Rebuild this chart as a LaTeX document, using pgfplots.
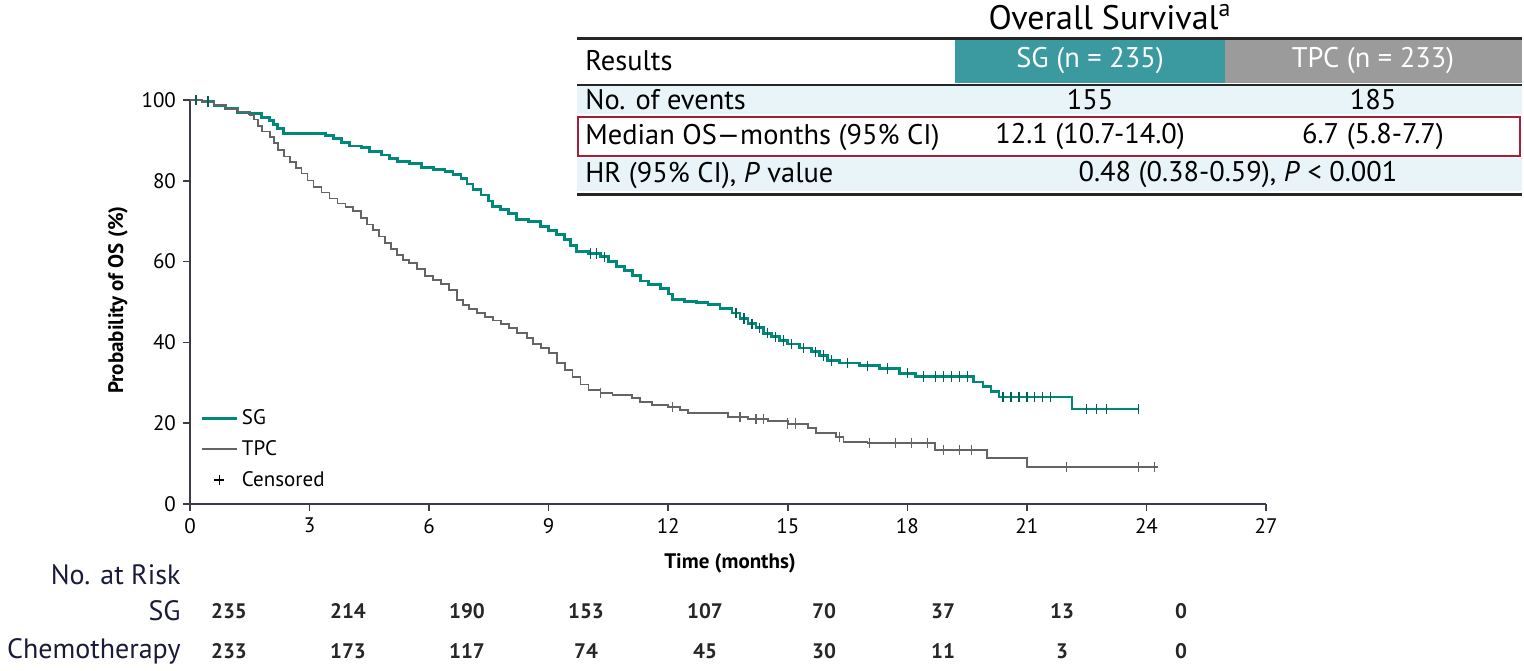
\documentclass[border=0pt]{standalone}
\usepackage{fontspec}
\setmainfont{PT Sans}
\usepackage{pgfplots}
\pgfplotsset{compat=1.18}

\definecolor{sgteal}{HTML}{00897B}
\definecolor{tpcgray}{HTML}{646464}
\definecolor{hdteal}{HTML}{3A9AA0}
\definecolor{hdgray}{HTML}{9B9B9B}
\definecolor{rowblue}{HTML}{E8F4F8}
\definecolor{boxred}{HTML}{A51E3A}
\definecolor{navy}{HTML}{1A1A3A}
\definecolor{axgray}{HTML}{3C3C48}

\begin{document}
\begin{tikzpicture}
\begin{scope}[x=0.5pt, y=-0.5pt]
\path[use as bounding box] (0,0) rectangle (1524,670);

% table of results
\node[font=\fontsize{17}{19}\selectfont] at (1110,17) {Overall Survival\textsuperscript{a}};
\fill[rowblue] (577,86) rectangle (1522,114);
\fill[rowblue] (577,158) rectangle (1522,191);
\fill[hdteal] (955,40) rectangle (1225,83);
\fill[hdgray] (1225,40) rectangle (1522,83);
\draw[line width=1.5pt, black!85] (577,38) -- (1522,38);
\draw[line width=1pt, black!85] (577,84.5) -- (1522,84.5);
\draw[line width=1pt, boxred] (578,117) rectangle (1520,156);
\draw[line width=1.5pt, black!85] (577,194) -- (1522,194);
\begin{scope}[every node/.style={font=\fontsize{14.2}{16}\selectfont, inner sep=0pt}]
\node[anchor=west] at (585,61) {Results};
\node[text=white] at (1090,61) {SG (n = 235)};
\node[text=white] at (1373,61) {TPC (n = 233)};
\node[anchor=west] at (585,100) {No. of events};
\node at (1090,100) {155};
\node at (1373,100) {185};
\node[anchor=west] at (585,137) {Median OS—months (95\% CI)};
\node at (1090,137) {12.1 (10.7-14.0)};
\node at (1373,137) {6.7 (5.8-7.7)};
\node[anchor=west] at (585,175) {HR (95\% CI), \textit{P} value};
\node at (1238,175) {0.48 (0.38-0.59), \textit{P} < 0.001};
\end{scope}

% axis titles
\node[font=\bfseries\fontsize{10.5}{12}\selectfont] at (730,563) {Time (months)};
\node[font=\bfseries\fontsize{10.5}{12}\selectfont, rotate=90] at (118,300) {Probability of OS (\%)};

% number at risk
\begin{scope}[every node/.style={font=\fontsize{14}{16}\selectfont, text=navy, anchor=east, inner sep=0pt}]
\node at (181,575) {No. at Risk};
\node at (181,611) {SG};
\node at (181,651) {Chemotherapy};
\end{scope}
\begin{scope}[every node/.style={font=\bfseries\fontsize{10.5}{12}\selectfont, text=black!85, inner sep=0pt}]
\foreach \v [count=\i from 0] in {235,214,190,153,107,70,37,13,0}
  \node at (229+119*\i,611) {\v};
\foreach \v [count=\i from 0] in {233,173,117,74,45,30,11,3,0}
  \node at (229+119*\i,651) {\v};
\end{scope}
\end{scope}

\begin{axis}[
  at={(95pt,-252pt)}, anchor=south west,
  scale only axis, width=538pt, height=202pt,
  xmin=0, xmax=27, ymin=0, ymax=100,
  axis lines*=left,
  axis line style={axgray, line width=1pt, -},
  xtick={0,3,...,27}, ytick={0,20,...,100},
  tick align=outside, major tick length=3.5pt,
  tick style={axgray, line width=0.8pt},
  tick label style={font=\fontsize{10.5}{12}\selectfont},
  /pgf/number format/assume math mode=true,
  clip=false,
  legend style={at={(axis description cs:0.008,0.25)}, anchor=north west,
    draw=none, fill=none, font=\fontsize{10.5}{12}\selectfont,
    row sep=2.5pt, inner sep=1pt},
  legend cell align=left,
]
% SG
\addplot[const plot, sgteal, line width=1.4pt] coordinates {
(0,100) (0.3,99.6) (0.6,98.7) (0.9,97.8) (1.2,97.0) (1.5,96.6) (1.8,95.7)
(2.0,94.9) (2.1,94.0) (2.2,93.0) (2.35,91.8) (3.4,91.3) (3.6,90.4) (3.8,89.5)
(4.0,88.6) (4.3,88.2) (4.5,87.3) (4.8,86.4) (5.0,85.5) (5.2,84.7) (5.5,84.2)
(5.8,83.3) (6.1,82.8) (6.4,82.4) (6.6,81.5) (6.8,80.6) (6.95,79.2) (7.1,77.8)
(7.3,76.5) (7.5,75.0) (7.6,73.7) (7.8,72.8) (8.0,71.9) (8.2,70.5) (8.5,70.0)
(8.8,68.6) (9.0,67.7) (9.2,66.8) (9.4,65.4) (9.55,64.0) (9.7,62.6) (10.0,62.0)
(10.3,61.2) (10.5,60.0) (10.7,58.7) (10.9,57.8) (11.1,56.5) (11.3,55.2)
(11.5,54.3) (11.8,53.4) (12.0,52.0) (12.1,50.7) (12.4,50.2) (12.7,49.8)
(13.0,49.3) (13.3,48.4) (13.6,47.3) (13.8,45.9) (14.0,44.6) (14.2,43.6)
(14.4,42.3) (14.6,41.4) (14.8,40.5) (15.0,39.6) (15.3,38.6) (15.6,37.7)
(15.8,36.8) (16.0,35.5) (16.3,34.9) (16.8,34.2) (17.3,33.5) (17.8,32.4)
(18.2,31.6) (19.65,30.2) (19.9,29.0) (20.1,27.8) (20.3,26.5) (22.13,23.5) (23.8,23.5)
};
\addlegendentry{SG}
% TPC
\addplot[const plot, tpcgray, line width=0.9pt] coordinates {
(0,100) (0.3,99.5) (0.6,98.7) (0.9,97.8) (1.2,97.0) (1.5,96.3) (1.6,95.2)
(1.7,93.5) (1.8,92.2) (2.0,90.8) (2.1,89.4) (2.2,87.6) (2.35,86.0) (2.5,84.6)
(2.65,83.2) (2.8,81.8) (2.95,80.1) (3.1,78.5) (3.3,77.1) (3.5,75.6) (3.7,74.4)
(3.9,73.5) (4.1,72.6) (4.3,70.8) (4.45,69.2) (4.6,67.8) (4.75,66.2) (4.9,64.6)
(5.05,63.1) (5.2,61.7) (5.35,60.4) (5.5,59.6) (5.7,58.2) (5.9,56.5) (6.1,55.5)
(6.3,54.5) (6.5,52.9) (6.7,50.5) (6.85,49.3) (7.0,48.3) (7.2,47.2) (7.4,46.3)
(7.6,45.4) (7.8,44.5) (8.0,43.6) (8.2,42.4) (8.45,41.0) (8.6,39.7) (8.8,38.6)
(9.0,37.3) (9.2,34.9) (9.4,33.1) (9.6,31.4) (9.8,29.6) (10.0,28.3) (10.3,27.5)
(10.6,27.0) (11.1,26.2) (11.3,25.3) (11.6,24.5) (12.0,24.0) (12.3,23.2)
(12.5,22.5) (13.5,21.5) (14.0,21.0) (14.5,20.5) (15.0,19.9) (15.5,18.8)
(15.7,17.6) (16.2,16.6) (16.4,15.3) (17.0,15.1) (18.7,13.3) (20.0,11.3)
(21.0,9.1) (24.3,9.1)
};
\addlegendentry{TPC}
\addlegendimage{only marks, mark=+, black, mark size=2.5pt, line width=0.9pt}
\addlegendentry{Censored}
% censored marks
\addplot[only marks, mark=|, mark size=2.6pt, sgteal!70!black, line width=0.6pt, forget plot] coordinates {
(0.15,100) (0.45,99.6) (10.05,62.0) (10.2,62.0) (10.4,61.2)
(13.7,47.3) (13.9,45.9) (14.1,44.6) (14.3,43.6) (14.5,42.3) (14.7,41.4)
(14.9,40.5) (15.1,39.6) (15.4,38.6) (15.7,37.7) (15.9,36.8) (16.1,35.5)
(16.5,34.9) (17.0,34.2) (17.5,33.5) (18.0,32.4) (18.4,31.6) (18.7,31.6)
(18.9,31.6) (19.1,31.6) (19.3,31.6) (19.5,31.6)
(20.4,26.5) (20.6,26.5) (20.8,26.5) (21.0,26.5) (21.2,26.5) (21.4,26.5) (21.6,26.5)
(22.5,23.5) (22.75,23.5) (23.0,23.5) (23.8,23.5)
};
\addplot[only marks, mark=|, mark size=2.6pt, tpcgray, line width=0.6pt, forget plot] coordinates {
(10.3,27.5) (12.1,24.0) (13.8,21.5) (14.2,21.0) (14.4,21.0) (15.0,19.9)
(15.2,19.9) (16.3,16.6) (17.06,15.1) (17.7,15.1) (18.1,15.1) (18.5,15.1)
(18.9,13.3) (19.3,13.3) (19.6,13.3) (22.0,9.1) (23.8,9.1) (24.2,9.1)
};
\end{axis}
\end{tikzpicture}
\end{document}
